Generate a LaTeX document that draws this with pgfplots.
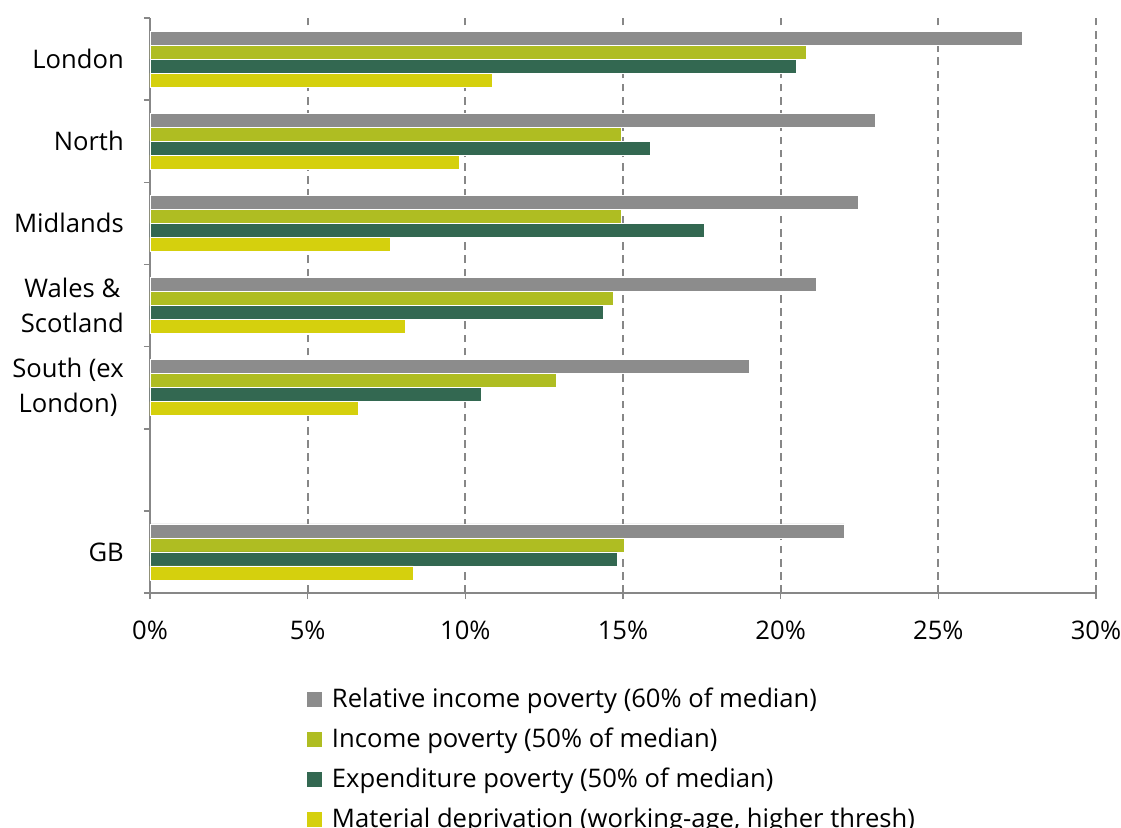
\documentclass[border=0pt]{standalone}
\usepackage{fontspec}
\setmainfont{Open Sans}
\usepackage{pgfplots}
\pgfplotsset{compat=1.18}
\definecolor{cgray}{HTML}{8C8C8C}
\definecolor{clime}{HTML}{AFBD22}
\definecolor{cdark}{HTML}{336851}
\definecolor{cyellow}{HTML}{D5D00D}
\definecolor{axgray}{HTML}{878787}
\begin{document}
\begin{tikzpicture}
\useasboundingbox (-75pt,-117pt) rectangle (485.5pt,296.5pt);
\begin{axis}[
  at={(0pt,0pt)}, anchor=south west,
  scale only axis, width=473pt, height=287.5pt,
  xmin=0, xmax=30, ymin=-0.5, ymax=6.5,
  enlargelimits=false,
  axis x line*=bottom, axis y line*=left,
  axis line style={axgray, line width=0.8pt},
  xtick={0,5,...,30},
  xticklabel={\pgfmathprintnumber{\tick}\%},
  /pgf/number format/assume math mode=true,
  xmajorgrids,
  major grid style={axgray, dash pattern=on 3.8pt off 2.8pt, line width=0.85pt},
  tick align=outside, major tick length=3pt, minor tick length=3pt,
  tick style={axgray, line width=0.8pt},
  ytick={6,5,4,3,2,0},
  yticklabels={London,North,Midlands,{Wales \&\\Scotland},{South (ex\\London)},GB},
  minor ytick={-0.5,0.5,...,6.5},
  every major y tick/.append style={draw=none},
  xticklabel style={font=\fontsize{12.8}{15}\selectfont, yshift=-7.5pt},
  yticklabel style={align=center, font=\fontsize{12.8}{17.5}\selectfont, xshift=-6.6pt},
  legend style={at={(axis description cs:0.1649,-0.158)}, anchor=north west,
    draw=none, fill=none, inner sep=0pt, row sep=4.6pt,
    font=\fontsize{12.8}{15}\selectfont, cells={anchor=west},
    nodes={inner xsep=4.5pt}},
  legend cell align=left,
  legend image code/.code={\fill[#1] (0pt,-4pt) rectangle (8pt,4pt);},
]
\addplot[xbar, bar width=7pt, bar shift=10.5pt, fill=cgray, draw=white, line width=0.3pt]
  coordinates {(27.65,6) (23.0,5) (22.46,4) (21.14,3) (18.99,2) (22.01,0)};
\addplot[xbar, bar width=7pt, bar shift=3.5pt, fill=clime, draw=white, line width=0.3pt]
  coordinates {(20.8,6) (14.94,5) (14.94,4) (14.69,3) (12.88,2) (15.04,0)};
\addplot[xbar, bar width=7pt, bar shift=-3.5pt, fill=cdark, draw=white, line width=0.3pt]
  coordinates {(20.48,6) (15.87,5) (17.57,4) (14.37,3) (10.51,2) (14.83,0)};
\addplot[xbar, bar width=7pt, bar shift=-10.5pt, fill=cyellow, draw=white, line width=0.3pt]
  coordinates {(10.84,6) (9.82,5) (7.61,4) (8.11,3) (6.59,2) (8.35,0)};
\legend{Relative income poverty (60\% of median),
        Income poverty (50\% of median),
        Expenditure poverty (50\% of median),
        {Material deprivation (working-age, higher thresh)}}
\end{axis}
\end{tikzpicture}
\end{document}
